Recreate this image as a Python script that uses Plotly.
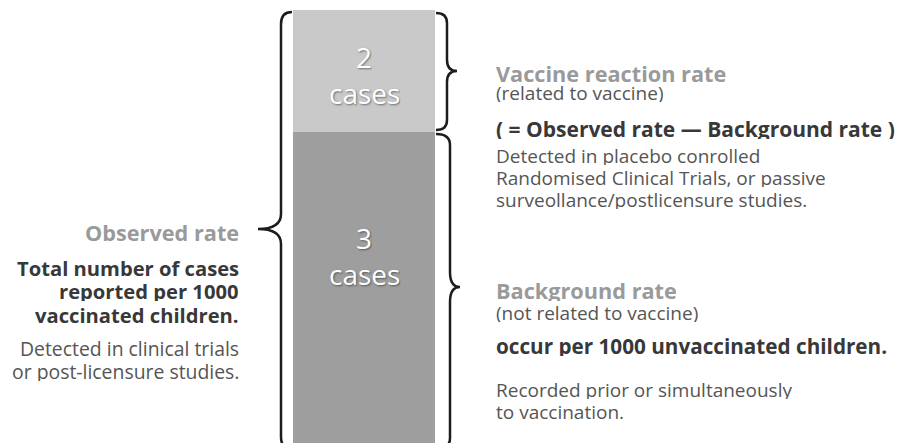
import math
import plotly.graph_objects as go

# ---------------- data ----------------
segments = ["Background rate", "Vaccine reaction rate"]   # bottom -> top of the stacked bar
cases = [3, 2]                                            # cases per 1000 children
unit_label = "cases"
bar_colors = ["#9e9e9e", "#c9c9c9"]

left_heading = "Observed rate"
left_bold = ["Total number of cases", "reported per 1000", "vaccinated children."]
left_note = ["Detected in clinical trials", "or post-licensure studies."]

top_heading = "Vaccine reaction rate"
top_sub = "(related to vaccine)"
top_bold = "( = Observed rate — Background rate )"
top_note = ["Detected in placebo conrolled",
            "Randomised Clinical Trials, or passive",
            "surveollance/postlicensure studies."]

bottom_heading = "Background rate"
bottom_sub = "(not related to vaccine)"
bottom_bold = "occur per 1000 unvaccinated children."
bottom_note = ["Recorded prior or simultaneously", "to vaccination."]

# ---------------- layout constants ----------------
W, H = 907, 443
FONT = "Open Sans, Noto Sans, sans-serif"
BAR_X, BAR_W = 364, 142
total = sum(cases)
# hidden log value axis: bar top at 10 px, segment boundary at 132 px
ppd = (132 - 10) / math.log10(total / cases[0])
y_top = math.log10(total) + 10 / ppd
y_bot = y_top - H / ppd

fig = go.Figure()
for name, v, c in zip(segments, cases, bar_colors):
    fig.add_trace(go.Bar(x=[BAR_X], y=[v], width=[BAR_W], name=name,
                         marker=dict(color=c, line=dict(width=0)),
                         hoverinfo="skip"))

# ---------------- braces ----------------
def brace(x_end, x_line, x_tip, y0, y_tip, y1, r_end=11, r_tip=14):
    return (f"M{x_end},{y0} Q{x_line},{y0} {x_line},{y0 + r_end} "
            f"L{x_line},{y_tip - r_tip} Q{x_line},{y_tip} {x_tip},{y_tip} "
            f"Q{x_line},{y_tip} {x_line},{y_tip + r_tip} "
            f"L{x_line},{y1 - r_end} Q{x_line},{y1} {x_end},{y1}")

shapes = []
for p in [brace(292, 281, 258, 12, 229, 449, 12, 15),
          brace(436, 447, 457, 13, 71, 130, 10, 11),
          brace(436, 450, 460, 134, 287, 449, 11, 15)]:
    shapes.append(dict(type="path", path=p, xref="x", yref="y2",
                       line=dict(color="#1c1c1c", width=2.5)))

# ---------------- text ----------------
ann = []
def txt(s, x, y, size, color, bold=False, anchor="left", shadow=None):
    f = dict(family=FONT, size=size, color=color, weight="bold" if bold else "normal")
    if shadow:
        f["shadow"] = shadow
    ann.append(dict(text=s, x=x, y=y, xref="x", yref="y2", showarrow=False,
                    xanchor=anchor, yanchor="middle", font=f, borderpad=0,
                    height=int(size)))

GRAY_H, DARK, REG = "#9a9a9a", "#383838", "#555555"
SH = "1px 1px 2px rgba(0,0,0,0.45)"

# bar labels (top segment = cases[1], bottom = cases[0])
txt(str(cases[1]), BAR_X, 57, 28, "white", anchor="center", shadow=SH)
txt(unit_label, BAR_X, 93, 28, "white", anchor="center", shadow=SH)
txt(str(cases[0]), BAR_X, 238, 28, "white", anchor="center", shadow=SH)
txt(unit_label, BAR_X, 274, 28, "white", anchor="center", shadow=SH)

# left block
LX = 240
txt(left_heading, LX, 232, 21.7, GRAY_H, bold=True, anchor="right")
for s, y in zip(left_bold, [268, 291, 315]):
    txt(s, LX, y, 20.2, DARK, bold=True, anchor="right")
for s, y in zip(left_note, [348, 371]):
    txt(s, LX, y, 19.4, REG, anchor="right")

# right block
RX = 495
txt(top_heading, RX, 73, 21.7, GRAY_H, bold=True)
txt(top_sub, RX, 92, 19, REG)
txt(top_bold, RX, 128, 21, DARK, bold=True)
for s, y in zip(top_note, [155, 177, 199]):
    txt(s, RX, y, 19, REG)

txt(bottom_heading, RX, 290, 21.7, GRAY_H, bold=True)
txt(bottom_sub, RX, 312, 19, REG)
txt(bottom_bold, RX, 346, 20.7, DARK, bold=True)
for s, y in zip(bottom_note, [389, 411]):
    txt(s, RX, y, 19, REG)

fig.update_layout(
    width=W, height=H, margin=dict(l=0, r=0, t=0, b=0),
    barmode="stack", showlegend=False,
    paper_bgcolor="white", plot_bgcolor="white",
    xaxis=dict(range=[0, W], visible=False, fixedrange=True),
    yaxis=dict(type="log", range=[y_bot, y_top], visible=False, fixedrange=True),
    yaxis2=dict(range=[H, 0], overlaying="y", visible=False, fixedrange=True),
    shapes=shapes, annotations=ann,
)
fig.write_html("out.html", config={"displayModeBar": False},
               post_script="document.body.style.margin='0';document.body.style.overflow='hidden';")
